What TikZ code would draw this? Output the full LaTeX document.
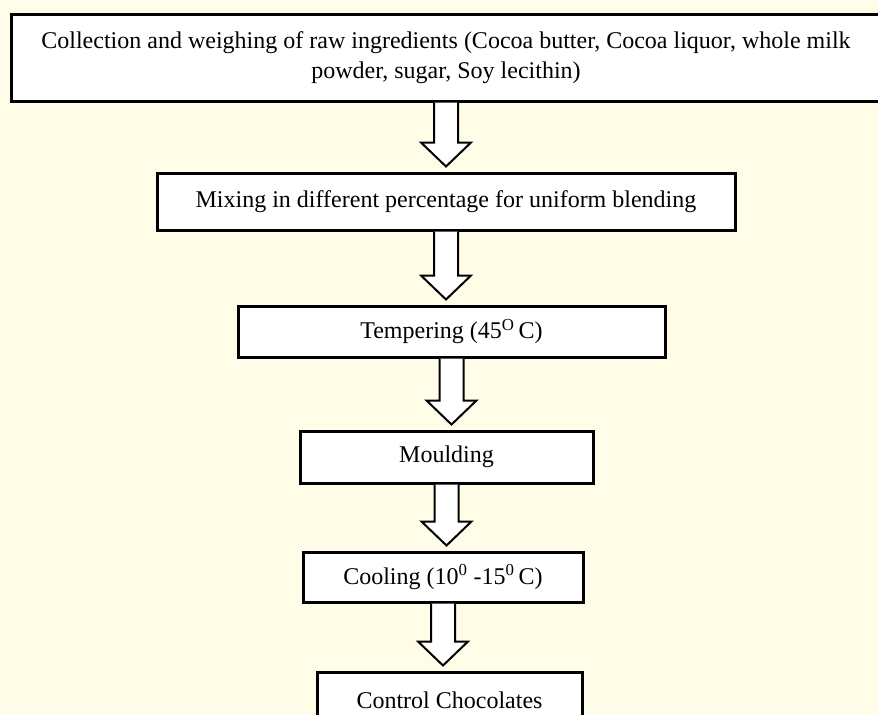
\documentclass[tikz,border=0pt]{standalone}
\usepackage{fontspec}
\setmainfont{Liberation Serif}
\usetikzlibrary{calc}

\definecolor{bgcream}{RGB}{255,252,232}

\tikzset{
  stepbox/.style={draw=black, fill=white, line width=2.25pt, align=center,
    inner sep=0pt, font=\fontsize{18}{22.5}\selectfont},
  blockarrow/.style={draw=black, fill=white, line width=1.5pt, line join=miter}
}

% block arrow from the bottom of one box down to the next one
\newcommand{\flowarrow}[2]{%
\draw [blockarrow] let \p1=(#1.south), \p2=(#2.north) in
  (\x1-9pt,\y1) -- (\x1-9pt,\y2-21.75pt) -- (\x1-18.75pt,\y2-21.75pt) -- (\x1,\y2-3.75pt)
  -- (\x1+18.75pt,\y2-21.75pt) -- (\x1+9pt,\y2-21.75pt) -- (\x1+9pt,\y1) ;
}

\begin{document}
\begin{tikzpicture}[x=0.75pt,y=0.75pt,yscale=-1,xscale=1]
\clip (0,0) rectangle (878,714);
\fill [bgcream] (0,0) rectangle (878,714);

%Shape: Rectangle [collection]
\node [stepbox, minimum width=652.5pt, minimum height=65.25pt] (collect) at (446,57.5)
  {Collection and weighing of raw ingredients (Cocoa butter, Cocoa liquor, whole milk\\ powder, sugar, Soy lecithin)};
%Shape: Rectangle [mixing]
\node [stepbox, minimum width=433.5pt, minimum height=42.75pt] (mixing) at (446,201.5)
  {Mixing in different percentage for uniform blending};
%Shape: Rectangle [tempering]
\node [stepbox, minimum width=320.25pt, minimum height=38.25pt] (temper) at (451.5,331.5)
  {Tempering (45\textsuperscript{O}\,C)};
%Shape: Rectangle [moulding]
\node [stepbox, minimum width=219.75pt, minimum height=39pt] (mould) at (446.5,457)
  {Moulding};
%Shape: Rectangle [cooling]
\node [stepbox, minimum width=210pt, minimum height=37.5pt] (cool) at (443,577)
  {Cooling (10\textsuperscript{0} -15\textsuperscript{0}\,C)};
%Shape: Rectangle [control]
\node [stepbox, minimum width=198.75pt, minimum height=42pt] (control) at (449.5,700)
  {Control Chocolates};

%Arrows
\flowarrow{collect}{mixing}
\flowarrow{mixing}{temper}
\flowarrow{temper}{mould}
\flowarrow{mould}{cool}
\flowarrow{cool}{control}

\end{tikzpicture}
\end{document}
